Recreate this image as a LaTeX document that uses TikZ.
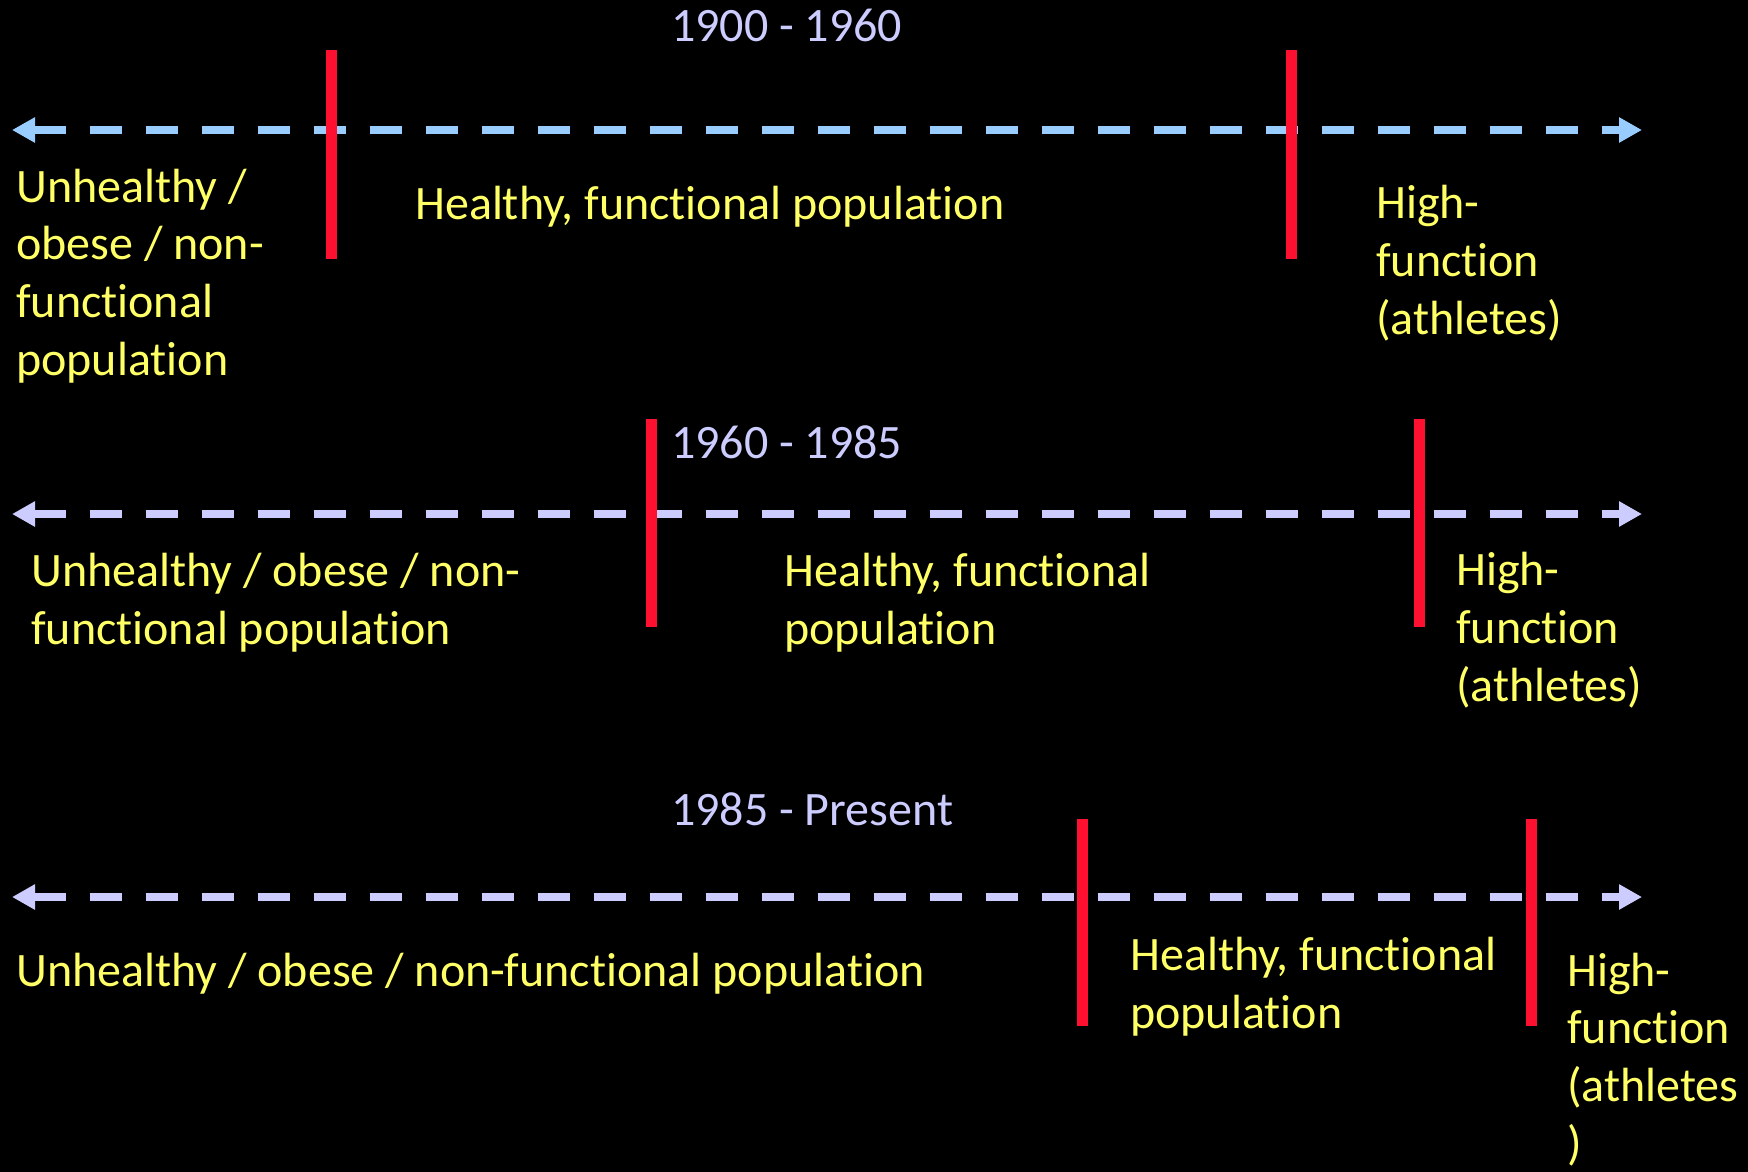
\documentclass[tikz,border=0pt]{standalone}
\usepackage{fontspec}
\setmainfont{Carlito}[Ligatures=NoCommon]
\usetikzlibrary{arrows.meta}
\definecolor{lineblue}{HTML}{99CCFF}
\definecolor{linelav}{HTML}{CCCCFF}
\definecolor{txtyel}{HTML}{FFFF66}
\definecolor{barred}{HTML}{FF1030}
\tikzset{
  big/.style={font=\fontsize{48}{57.6}\selectfont},
  title/.style={big, text=linelav, inner sep=0pt, anchor=base west},
  label/.style={big, text=txtyel, inner sep=0pt, anchor=base west, align=left},
  axis/.style={line width=8pt, dash pattern=on 32pt off 24pt,
    {Triangle[length=23pt,width=24pt]}-{Triangle[length=23pt,width=24pt]}},
  bar/.style={line width=11pt, barred},
}
\begin{document}
\begin{tikzpicture}[x=1pt,y=-1pt]
\useasboundingbox (0,0) rectangle (1748,1171);
\fill[black] (-6,-6) rectangle (1754,1177);
% Row 1
\node[title] (t1) at (671,41) {1900 - 1960};
\coordinate (l1a) at (12,130);
\coordinate (l1b) at (1642,130);
\draw[axis, lineblue] (l1a) -- (l1b);
\coordinate (b1a) at (331,50); \coordinate (b1b) at (331,259);
\coordinate (b2a) at (1291,50); \coordinate (b2b) at (1291,259);
\draw[bar] (b1a) -- (b1b);
\draw[bar] (b2a) -- (b2b);
\node[label] (u1) at (16,375) {Unhealthy /\\obese / non-\\functional\\population};
\node[label] (h1) at (415,219) {Healthy, functional population};
\node[label] (a1) at (1376,334) {High-\\function\\(athletes)};
% Row 2
\node[title] (t2) at (671,458) {1960 - 1985};
\coordinate (l2a) at (12,514);
\coordinate (l2b) at (1642,514);
\draw[axis, linelav] (l2a) -- (l2b);
\coordinate (b3a) at (651,419); \coordinate (b3b) at (651,627);
\coordinate (b4a) at (1419,419); \coordinate (b4b) at (1419,627);
\draw[bar] (b3a) -- (b3b);
\draw[bar] (b4a) -- (b4b);
\node[label] (u2) at (31,644) {Unhealthy / obese / non-\\functional population};
\node[label] (h2) at (784,644) {Healthy, functional\\population};
\node[label] (a2) at (1456,701) {High-\\function\\(athletes)};
% Row 3
\node[title] (t3) at (671,825) {1985 - Present};
\coordinate (l3a) at (12,897);
\coordinate (l3b) at (1642,897);
\draw[axis, linelav] (l3a) -- (l3b);
\coordinate (b5a) at (1082,819); \coordinate (b5b) at (1082,1026);
\coordinate (b6a) at (1531,819); \coordinate (b6b) at (1531,1026);
\draw[bar] (b5a) -- (b5b);
\draw[bar] (b6a) -- (b6b);
\node[label] (u3) at (16,986) {Unhealthy / obese / non-functional population};
\node[label] (h3) at (1130,1028) {Healthy, functional\\population};
\node[label] (a3) at (1567,1159) {High-\\function\\(athletes\\)};
\end{tikzpicture}
\end{document}
